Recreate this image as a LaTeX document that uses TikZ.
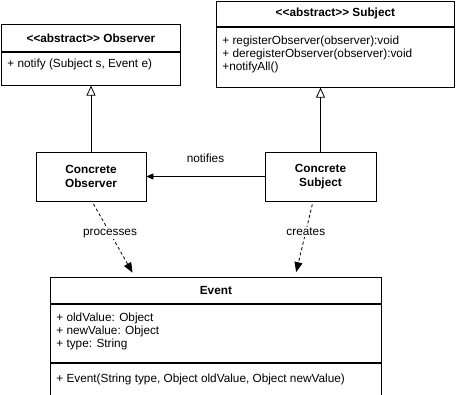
\documentclass[tikz,border=0pt]{standalone}
\usepackage{fontspec}
\setmainfont{Liberation Sans}
\usetikzlibrary{arrows.meta,calc}

\newcommand{\umlsize}{\fontsize{11.8}{13.3}\selectfont}

\tikzset{
  classtitle/.style={draw, anchor=north west, inner sep=0pt, font=\umlsize\bfseries},
  classpart/.style={draw, anchor=north west, inner sep=0pt},
  members/.style={anchor=north west, inner sep=0pt, align=left},
  concrete/.style={draw, inner sep=0pt, align=center, font=\umlsize\bfseries},
  inherits/.style={-{Triangle[open,length=10pt,width=9pt,fill=white]}},
  assoc/.style={-{Triangle[length=7pt,width=6pt]}},
  depends/.style={dash pattern=on 3pt off 2.5pt, -{Triangle[length=10pt,width=8pt]}},
  rel/.style={fill=white, inner sep=1pt}
}

\begin{document}
\begin{tikzpicture}[x=1pt,y=-1pt,line width=0.8pt,font=\umlsize]
\useasboundingbox (0,0) rectangle (457,394);

% abstract observer
\node[classtitle, minimum width=179pt, minimum height=27pt] (obsTitle) at (1,24) {<{}<abstract>{}> Observer};
\node[classpart, minimum width=179pt, minimum height=33pt] (obsOps) at (obsTitle.south west) {};
\node[members] at ([shift={(6pt,-6.5pt)}]obsOps.north west) {+ notify (Subject s, Event e)};

% abstract subject
\node[classtitle, minimum width=238pt, minimum height=25pt] (subTitle) at (216,1) {<{}<abstract>{}> Subject};
\node[classpart, minimum width=238pt, minimum height=60pt] (subOps) at (subTitle.south west) {};
\node[members] at ([shift={(6pt,-8.5pt)}]subOps.north west) {+ registerObserver(observer):void\\+ deregisterObserver(observer):void\\+notifyAll()};

% concrete classes
\node[concrete, minimum width=110pt, minimum height=49pt] (cObs) at (91,176.5) {Concrete\\Observer};
\node[concrete, minimum width=111pt, minimum height=49pt] (cSub) at (320.5,176.5) {Concrete\\Subject};

% event
\node[classtitle, minimum width=331pt, minimum height=26pt] (evTitle) at (50,277) {Event};
\node[classpart, minimum width=331pt, minimum height=58pt] (evAttrs) at (evTitle.south west) {};
\node[classpart, minimum width=331pt, minimum height=32pt] (evOps) at (evAttrs.south west) {};
\node[members] at ([shift={(6pt,-8.5pt)}]evAttrs.north west) {+ oldValue: Object\\+ newValue: Object\\+ type: String};
\node[members] at ([shift={(6pt,-11pt)}]evOps.north west) {+ Event(String type, Object oldValue, Object newValue)};

\coordinate (procEnd) at (135,277);
\coordinate (creaEnd) at (295,277);

\draw[inherits] (cObs.north) -- (cObs.north |- obsOps.south);
\draw[inherits] (cSub.north) -- (cSub.north |- subOps.south);
\draw[assoc] (cSub.west) -- (cObs.east) node[midway, above=13pt, inner sep=0pt] {notifies};

\draw[depends, shorten <=3pt, shorten >=5pt] ([xshift=1pt]cObs.south) -- (procEnd) node[rel, pos=0.42] {processes};
\draw[depends, shorten <=3pt, shorten >=5pt] ([xshift=-7.5pt]cSub.south) -- (creaEnd) node[rel, pos=0.4] {creates};

\end{tikzpicture}
\end{document}
